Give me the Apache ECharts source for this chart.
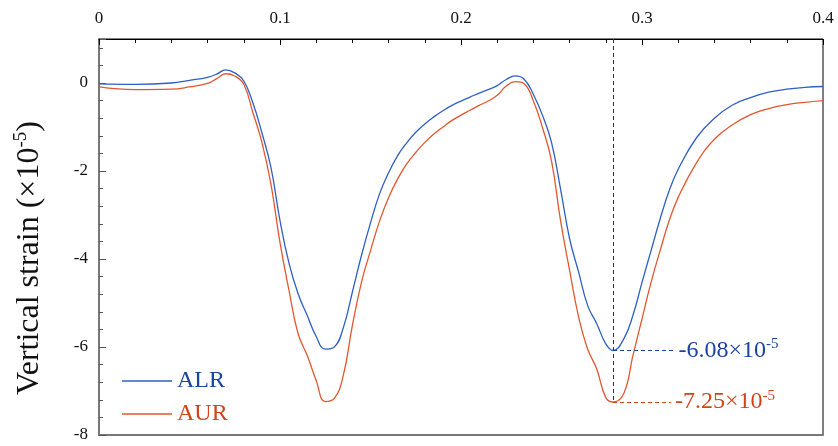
<!DOCTYPE html>
<html>
<head>
<meta charset="utf-8">
<script src="https://cdn.jsdelivr.net/npm/echarts@6/dist/echarts.min.js"></script>
<style>
    html, body { margin: 0; padding: 0; background: #fff; }
    #chart { width: 838px; height: 446px; }
</style>
</head>
<body>
<div id="chart"></div>
<script>
// position along the road (shared by both curves)
var pos = [0, 0.02, 0.04, 0.05, 0.06, 0.065, 0.07, 0.075, 0.08, 0.085, 0.09, 0.095, 0.1, 0.105, 0.11, 0.115, 0.12, 0.125, 0.13, 0.135, 0.14, 0.145, 0.15, 0.155, 0.16, 0.165, 0.17, 0.175, 0.18, 0.185, 0.19, 0.195, 0.2, 0.205, 0.21, 0.215, 0.22, 0.225, 0.23, 0.235, 0.24, 0.245, 0.25, 0.255, 0.26, 0.265, 0.27, 0.275, 0.28, 0.284, 0.29, 0.295, 0.3, 0.305, 0.31, 0.315, 0.32, 0.33, 0.34, 0.35, 0.36, 0.37, 0.38, 0.39, 0.4];
// ALR
var alr = [-0.02, -0.03, 0.00, 0.06, 0.13, 0.20, 0.30, 0.23, 0.045, -0.45, -1.13, -1.92, -3.13, -4.10, -4.79, -5.28, -5.76, -6.05, -6.00, -5.56, -4.75, -3.92, -3.18, -2.52, -2.04, -1.65, -1.36, -1.12, -0.93, -0.77, -0.63, -0.51, -0.41, -0.32, -0.23, -0.15, -0.06, 0.08, 0.16, 0.08, -0.26, -0.73, -1.35, -2.41, -3.54, -4.30, -5.06, -5.47, -5.93, -6.08, -5.81, -5.28, -4.53, -3.81, -3.09, -2.45, -1.96, -1.25, -0.80, -0.50, -0.33, -0.21, -0.14, -0.10, -0.08];
// AUR
var aur = [-0.09, -0.15, -0.14, -0.09, -0.01, 0.10, 0.21, 0.16, -0.03, -0.67, -1.35, -2.30, -3.63, -4.72, -5.70, -6.19, -6.76, -7.24, -7.17, -6.64, -5.51, -4.53, -3.81, -3.14, -2.60, -2.18, -1.84, -1.58, -1.35, -1.16, -1.00, -0.85, -0.73, -0.62, -0.51, -0.41, -0.28, -0.07, 0.03, -0.02, -0.41, -1.01, -1.77, -3.13, -4.26, -5.32, -6.05, -6.50, -7.15, -7.25, -7.05, -6.19, -5.36, -4.53, -3.81, -3.13, -2.60, -1.82, -1.28, -0.95, -0.72, -0.58, -0.49, -0.44, -0.40];

var peakX = 0.284;
var peakALR = -6.08;
var peakAUR = -7.25;

var yTicks = [-8, -6, -4, -2, 0];
var yMinorTicks = [];
for (var v = -8; v <= 0.81; v += 0.4) yMinorTicks.push(Math.round(v * 10) / 10);

var BLUE = '#2f5fc4', BLUE_TXT = '#1a44a0';
var RED = '#e4572e', RED_TXT = '#d2451a';
var FONT = 'Liberation Serif';

function zip(xs, ys) {
    return xs.map(function(x, i) { return [x, ys[i]]; });
}

var chart = echarts.init(document.getElementById('chart'));
var option = {
    animation: false,
    textStyle: { fontFamily: FONT },
    grid: { left: 99, right: 15, top: 39, bottom: 11, show: true, borderColor: '#000', borderWidth: 1 },
    legend: {
        left: 117, top: 364, orient: 'vertical', icon: 'rect',
        itemWidth: 50, itemHeight: 1.4, itemGap: 9,
        textStyle: { fontFamily: FONT, fontSize: 24 },
        data: [
            { name: 'ALR', textStyle: { color: BLUE_TXT } },
            { name: 'AUR', textStyle: { color: RED_TXT } }
        ]
    },
    xAxis: [{
        type: 'value', position: 'top', min: 0, max: 0.4, interval: 0.1,
        axisLine: { onZero: false, lineStyle: { color: '#000', width: 1 } },
        axisTick: { inside: true, length: 6, lineStyle: { color: '#000' } },
        minorTick: { show: true, splitNumber: 5, length: 4, lineStyle: { color: '#000' } },
        axisLabel: { fontSize: 17, color: '#111', margin: 12, fontFamily: FONT },
        splitLine: { show: false }
    }, {
        type: 'value', position: 'bottom', min: 0, max: 0.4,
        axisLine: { onZero: false, lineStyle: { color: '#777', width: 2 } },
        axisTick: { show: false }, axisLabel: { show: false }, splitLine: { show: false }
    }],
    yAxis: [{
        type: 'value', position: 'left', min: -8, max: 1, interval: 2,
        name: '{a|Vertical strain (×10}{s|-5}{a|)}',
        nameLocation: 'middle', nameGap: 52,
        nameTextStyle: {
            padding: [0, 42, 0, 0],
            rich: {
                a: { fontSize: 32, fontFamily: FONT, color: '#111' },
                s: { fontSize: 19, fontFamily: FONT, color: '#111', padding: [0, 0, 16, 0] }
            }
        },
        axisLine: { onZero: false, lineStyle: { color: '#777', width: 2 } },
        axisTick: { inside: true, length: 7, lineStyle: { color: '#555' } },
        axisLabel: {
            fontSize: 17, color: '#111', margin: 11, fontFamily: FONT,
            formatter: function(val) { return yTicks.indexOf(val) >= 0 ? String(val) : ''; }
        },
        splitLine: { show: false }
    }, {
        type: 'value', position: 'left', min: -8, max: 1,
        axisLine: { show: false, onZero: false },
        axisTick: { inside: true, length: 4, customValues: yMinorTicks, lineStyle: { color: '#555' } },
        axisLabel: { show: false },
        splitLine: { show: false }
    }],
    series: [{
        name: 'ALR', type: 'line', data: zip(pos, alr),
        smooth: 0.45, symbol: 'none', z: 3,
        lineStyle: { color: BLUE, width: 1.3 }, itemStyle: { color: BLUE },
        markLine: {
            silent: true, symbol: ['none', 'none'],
            data: [
                [{ coord: [peakX, 1], lineStyle: { color: '#333', type: [4, 3], width: 1 }, label: { show: false } },
                 { coord: [peakX, peakAUR] }],
                [{ coord: [peakX, peakALR], lineStyle: { color: BLUE_TXT, type: [4, 3], width: 1 },
                   label: { show: true, position: 'end', distance: 4, formatter: '{a|' + peakALR.toFixed(2) + '×10}{s|-5}',
                       rich: { a: { fontSize: 24, fontFamily: FONT, color: BLUE_TXT },
                               s: { fontSize: 15, fontFamily: FONT, color: BLUE_TXT, padding: [0, 0, 12, 0] } } } },
                 { coord: [0.318, peakALR] }]
            ]
        }
    }, {
        name: 'AUR', type: 'line', data: zip(pos, aur),
        smooth: 0.45, symbol: 'none', z: 2,
        lineStyle: { color: RED, width: 1.3 }, itemStyle: { color: RED },
        markLine: {
            silent: true, symbol: ['none', 'none'],
            data: [
                [{ coord: [peakX, peakAUR], lineStyle: { color: RED_TXT, type: [4, 3], width: 1 },
                   label: { show: true, position: 'end', distance: 4, formatter: '{a|' + peakAUR.toFixed(2) + '×10}{s|-5}',
                       rich: { a: { fontSize: 24, fontFamily: FONT, color: RED_TXT },
                               s: { fontSize: 15, fontFamily: FONT, color: RED_TXT, padding: [0, 0, 12, 0] } } } },
                 { coord: [0.316, peakAUR] }]
            ]
        }
    }]
};
chart.setOption(option);
</script>
</body>
</html>
